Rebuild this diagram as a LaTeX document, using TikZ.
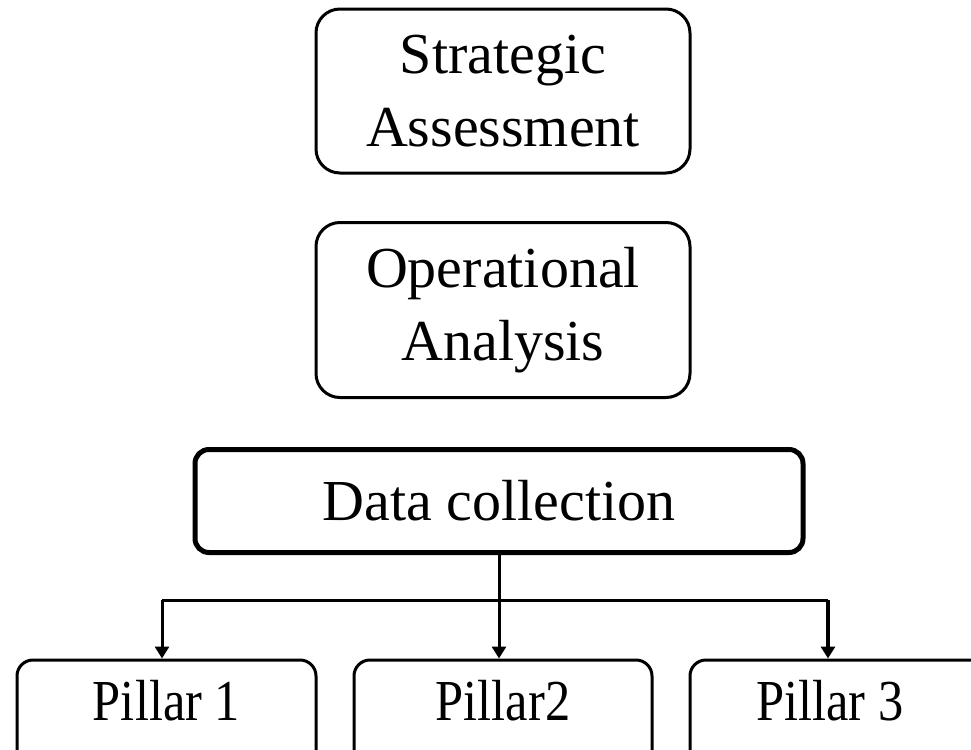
\documentclass[tikz,border=0pt]{standalone}
\usepackage{fontspec}
\setmainfont{Liberation Serif}
\usetikzlibrary{arrows.meta}
\begin{document}
\begin{tikzpicture}[x=0.5pt,y=-0.5pt,
  box/.style={draw, line width=1.5pt, rounded corners=12pt, align=center,
    font=\fontsize{29}{36.5}\selectfont, inner sep=0pt},
  dcbox/.style={draw, line width=2.5pt, rounded corners=7pt, align=center,
    font=\fontsize{29}{36.5}\selectfont, inner sep=0pt},
  pbox/.style={draw, line width=1.5pt, rounded corners=8pt, inner sep=0pt},
  ptext/.style={font=\fontsize{29}{36.5}\selectfont, inner sep=0pt},
  conn/.style={line width=1.5pt},
  arr/.style={conn, -{Triangle[length=6pt,width=7pt]}}
]
\useasboundingbox (0,0) rectangle (971,750);
\clip (0,0) rectangle (971,750);

\node[box, minimum width=187pt, minimum height=82pt] (sa) at (503,91) {Strategic\\Assessment};
\node[box, minimum width=187pt, minimum height=87.5pt] (oa) at (503,310) {Operational\\Analysis};
\node[dcbox, minimum width=304pt, minimum height=51.5pt] (dc) at (499,501) {Data collection};

\node[pbox, minimum width=149.5pt, minimum height=55pt] (p1) at (166.5,715) {};
\node[pbox, minimum width=149pt, minimum height=55pt] (p2) at (503,715) {};
\node[pbox, minimum width=150pt, minimum height=55pt] (p3) at (840,715) {};

\node[ptext] (t1) at (166.5,701) {\scalebox{0.87}[1]{Pillar 1}};
\node[ptext] (t2) at (503,701) {\scalebox{0.87}[1]{Pillar2}};
\node[ptext] (t3) at (830,701) {\scalebox{0.87}[1]{Pillar 3}};

\coordinate (hl) at (162,600);
\coordinate (hr) at (828,600);
\draw[arr] (dc.south) -- (dc.south |- p2.north);
\draw[conn] (hl) -- (hr);
\draw[arr] (hl) -- (hl |- p1.north);
\draw[arr, line width=2pt] (hr) -- (hr |- p3.north);
\end{tikzpicture}
\end{document}
